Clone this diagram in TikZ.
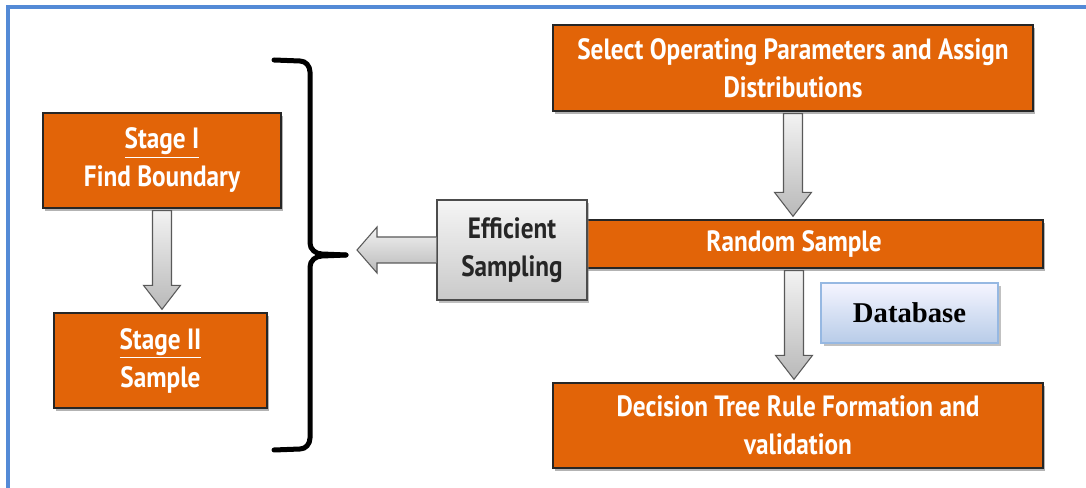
\documentclass[tikz,border=0pt]{standalone}
\usepackage{fontspec}
\setmainfont{PT Sans}
\newfontfamily\boxfont{PT Sans}[FakeStretch=0.86]
\newfontfamily\dbfont{Liberation Serif}
\usetikzlibrary{calc,shadows}

\definecolor{boxorange}{RGB}{226,100,8}
\definecolor{frameblue}{RGB}{84,138,214}
\definecolor{dbline}{RGB}{150,184,226}

\tikzset{
  stepbox/.style={draw=black!85, line width=1pt, fill=boxorange, text=white,
    align=center, inner sep=0pt, font=\boxfont\bfseries\fontsize{22}{28.5}\selectfont,
    drop shadow={shadow xshift=1.5pt, shadow yshift=-2pt, opacity=0.6}},
  graybox/.style={draw=black!70, line width=0.8pt, top color=gray!8, bottom color=gray!42,
    text=black!85, align=center, inner sep=0pt, font=\boxfont\bfseries\fontsize{22}{28.5}\selectfont,
    drop shadow={shadow xshift=1.5pt, shadow yshift=-2pt, opacity=0.5}},
  dbbox/.style={draw=dbline, line width=1.5pt, top color=blue!4, bottom color={rgb,255:red,184;green,204;blue,232},
    inner sep=0pt, font=\dbfont\bfseries\fontsize{21.5}{25}\selectfont,
    drop shadow={shadow xshift=2pt, shadow yshift=-2.5pt, fill=gray!70, opacity=0.7}},
  blockarrow/.style={draw=black!65, line width=0.8pt, top color=gray!10, bottom color=gray!55},
  bracket/.style={line width=3.75pt, line cap=round}
}

% vertical block arrow from #1 down to #2
\newcommand{\downblock}[2]{%
  \draw[blockarrow] ($(#1.south)+(-9.5,2)$) -- ($(#1.south |- #2.north)+(-9.5,-27)$) -- ++(-9,0)
    -- ($(#1.south |- #2.north)+(0,-3)$) -- ++(18.5,-24) -- ++(-9,0)
    -- ($(#1.south)+(9.5,2)$) -- cycle;}

\begin{document}
\begin{tikzpicture}[x=0.75pt, y=-0.75pt]
    \useasboundingbox (0,0) rectangle (1086,488);
    \draw [frameblue, line width=2.4pt] (8,490) -- (8,7) -- (1090,7);

    % left column
    \node [stepbox, minimum width=178.5pt, minimum height=71.25pt] (st1) at (162,160.5) {\underline{Stage I}\\Find Boundary};
    \node [stepbox, minimum width=159.75pt, minimum height=71.25pt] (st2) at (160.5,360.5) {\underline{Stage II}\\Sample};
    \downblock{st1}{st2}

    % bracket
    \draw [bracket] (274,60) -- (300,61) to [out=0, in=90] (310,72) -- (310,243)
      to [out=-90, in=180] (322,254) -- (346,255);
    \draw [bracket] (346,255) -- (322,256) to [out=180, in=90] (310,267) -- (310,438)
      to [out=-90, in=0] (300,449) -- (274,450);

    % right column
    \node [stepbox, minimum width=360pt, minimum height=64.5pt] (sel) at (793,68) {Select Operating Parameters and Assign\\Distributions};
    \node [stepbox, minimum width=373.5pt, minimum height=36pt] (rand) at (794,244) {Random Sample};
    \node [stepbox, minimum width=367.5pt, minimum height=63.75pt] (dec) at (798,425.5) {Decision Tree Rule Formation and\\validation};
    \node [dbbox, minimum width=132.75pt, minimum height=45pt] (db) at (909.5,313) {Database};
    \downblock{sel}{rand}
    \downblock{rand}{dec}

    % efficient sampling
    \coordinate (etip) at (357,250);
    \node [graybox, minimum width=112.5pt, minimum height=75pt] (eff) at (512,250) {Efficient\\Sampling};
    \draw [blockarrow] ($(eff.west)+(0,-13)$) -- ($(etip)+(20,-13)$) -- ++(0,-10) -- (etip)
      -- ++(20,23) -- ++(0,-10) -- ($(eff.west)+(0,13)$);
\end{tikzpicture}
\end{document}
